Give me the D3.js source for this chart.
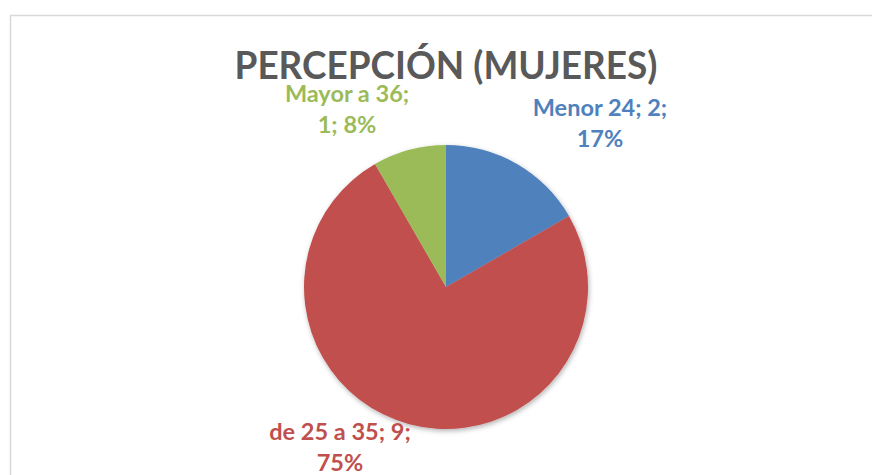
<!DOCTYPE html>
<meta charset="utf-8">
<style>
body { margin: 0; background: #fff; }
text { font-family: Lato, "Open Sans", sans-serif; font-weight: bold; }
</style>
<body>
<script src="https://cdn.jsdelivr.net/npm/d3@7"></script>
<script>

var categories = ["Menor 24", "de 25 a 35", "Mayor a 36"];
var values = [2, 9, 1];
var percents = ["17%", "75%", "8%"];
var colors = ["#4F81BD", "#C0504D", "#9BBB59"];
var title = "PERCEPCIÓN (MUJERES)";

var width = 872, height = 475,
    cx = 446, cy = 287, radius = 142;

var svg = d3.select("body").append("svg")
    .attr("width", width)
    .attr("height", height);

// chart border (left + top only visible)
svg.append("rect")
    .attr("x", 10.5).attr("y", 15.5)
    .attr("width", 900).attr("height", 500)
    .attr("fill", "none")
    .attr("stroke", "#d9d9d9")
    .attr("stroke-width", 1.5);

svg.append("text")
    .attr("x", 446).attr("y", 79)
    .attr("text-anchor", "middle")
    .attr("fill", "#595959")
    .attr("textLength", 423)
    .attr("lengthAdjust", "spacingAndGlyphs")
    .style("font-size", "39px")
    .text(title);

var defs = svg.append("defs");
var f = defs.append("filter").attr("id", "shadow")
    .attr("x", "-20%").attr("y", "-20%").attr("width", "140%").attr("height", "140%");
f.append("feDropShadow").attr("dx", 1).attr("dy", 2).attr("stdDeviation", 2.5)
    .attr("flood-color", "#000").attr("flood-opacity", 0.3);

var data = categories.map(function(c, i) {
  return {cat: c, value: values[i], pct: percents[i], color: colors[i]};
});

var pie = d3.pie().sort(null).value(function(d) { return d.value; });
var arc = d3.arc().innerRadius(0).outerRadius(radius);

var g = svg.append("g")
    .attr("transform", "translate(" + cx + "," + cy + ")")
    .attr("filter", "url(#shadow)");

g.selectAll("path")
    .data(pie(data))
  .enter().append("path")
    .attr("d", arc)
    .attr("fill", function(d) { return d.data.color; });

// data labels outside the pie
var labelPos = [[600, 116], [340, 440], [347, 102]];
var lines = data.map(function(d) {
  if (d.cat === "Mayor a 36") return [d.cat + ";", d.value + "; " + d.pct];
  return [d.cat + "; " + d.value + ";", d.pct];
});

data.forEach(function(d, i) {
  var t = svg.append("text")
      .attr("text-anchor", "middle")
      .attr("fill", d.color)
      .style("font-size", "23.5px");
  lines[i].forEach(function(s, j) {
    t.append("tspan")
        .attr("x", labelPos[i][0])
        .attr("y", labelPos[i][1] + j * 31)
        .text(s);
  });
});

</script>
</body>
